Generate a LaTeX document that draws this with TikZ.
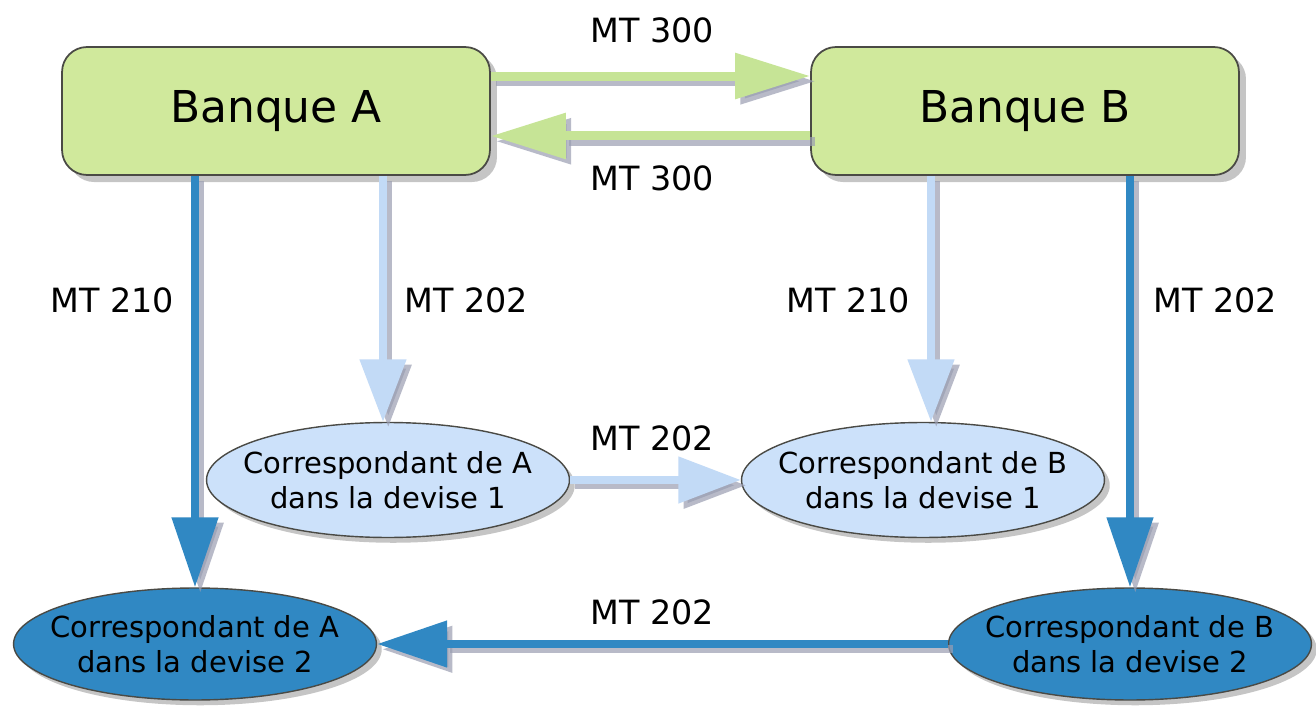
\documentclass[tikz,border=0pt]{standalone}
\usepackage{fontspec}
\setmainfont{DejaVu Sans}
\usetikzlibrary{arrows.meta,shapes.geometric,shadows}
\definecolor{bankgreen}{HTML}{D0E99C}
\definecolor{arrgreen}{HTML}{C6E496}
\definecolor{ltblue}{HTML}{CCE1FA}
\definecolor{arrlt}{HTML}{C2DAF6}
\definecolor{dkblue}{HTML}{3088C3}
\definecolor{rim}{HTML}{4A4A45}
\definecolor{shadowgray}{HTML}{9A9EB2}
\begin{document}
\begin{tikzpicture}[x=0.02cm, y=-0.02cm,
  bank/.style={draw=rim, line width=1pt, rounded corners=0.5cm, fill=bankgreen,
    minimum width=8.56cm, minimum height=2.56cm, font=\fontsize{25}{28}\selectfont,
    drop shadow={shadow xshift=4pt, shadow yshift=-4pt, opacity=.45}},
  corr/.style={ellipse, draw=rim, line width=.8pt, inner xsep=-0.6cm, inner ysep=0pt,
    minimum width=7.26cm, minimum height=2.3cm, align=center,
    font=\fontsize{16.5}{20}\selectfont,
    drop shadow={shadow xshift=3pt, shadow yshift=-3pt, opacity=.45}},
  lbl/.style={font=\fontsize{19}{23}\selectfont},
  arrshadow/.style={preaction={draw=shadowgray, opacity=.7, line width=#1,
    transform canvas={shift={(3pt,-3pt)}}}},
  grarr/.style={arrshadow=0.18cm, draw=arrgreen, line width=0.18cm, -{Triangle[width=0.88cm, length=1.5cm]}},
  ltarr/.style={arrshadow=0.16cm, draw=arrlt, line width=0.16cm, -{Triangle[width=0.9cm, length=1.25cm]}},
  dkarr/.style={arrshadow=0.16cm, draw=dkblue, line width=0.16cm, -{Triangle[width=0.9cm, length=1.4cm]}}]
\useasboundingbox[fill=white] (0,0) rectangle (1316,706);
% banks
\node[bank] (bankA) at (276,111) {Banque A};
\node[bank] (bankB) at (1025,111) {Banque B};
% correspondents
\node[corr, fill=ltblue] (ltA) at (388,480) {Correspondant de A\\dans la devise 1};
\node[corr, fill=ltblue] (ltB) at (923,480) {Correspondant de B\\dans la devise 1};
\node[corr, fill=dkblue, minimum height=2.24cm] (dkA) at (195,644) {Correspondant de A\\dans la devise 2};
\node[corr, fill=dkblue, minimum height=2.24cm] (dkB) at (1130,644) {Correspondant de B\\dans la devise 2};
% messages
\draw[grarr] ([yshift=0.7cm]bankA.east) -- ([yshift=0.7cm]bankB.west);
\draw[grarr] ([yshift=-0.5cm]bankB.west) -- ([yshift=-0.5cm]bankA.east);
\draw[dkarr] (bankA.south -| dkA.north) -- (dkA.north);
\draw[ltarr] ([xshift=-0.1cm]bankA.south -| ltA.north) -- ([xshift=-0.1cm]ltA.north);
\draw[ltarr] ([xshift=0.16cm]bankB.south -| ltB.north) -- ([xshift=0.16cm]ltB.north);
\draw[dkarr] (bankB.south -| dkB.north) -- (dkB.north);
\draw[ltarr] (ltA.east) -- (ltB.west);
\draw[dkarr] (dkB.west) -- (dkA.east);
% labels
\node[lbl] (l1) at (652,30) {MT 300};
\node[lbl] (l2) at (652,178) {MT 300};
\node[lbl] (l3) at (112,300) {MT 210};
\node[lbl] (l4) at (466,300) {MT 202};
\node[lbl] (l5) at (848,300) {MT 210};
\node[lbl] (l6) at (1215,300) {MT 202};
\node[lbl] (l7) at (652,438) {MT 202};
\node[lbl] (l8) at (652,612) {MT 202};
\end{tikzpicture}
\end{document}
